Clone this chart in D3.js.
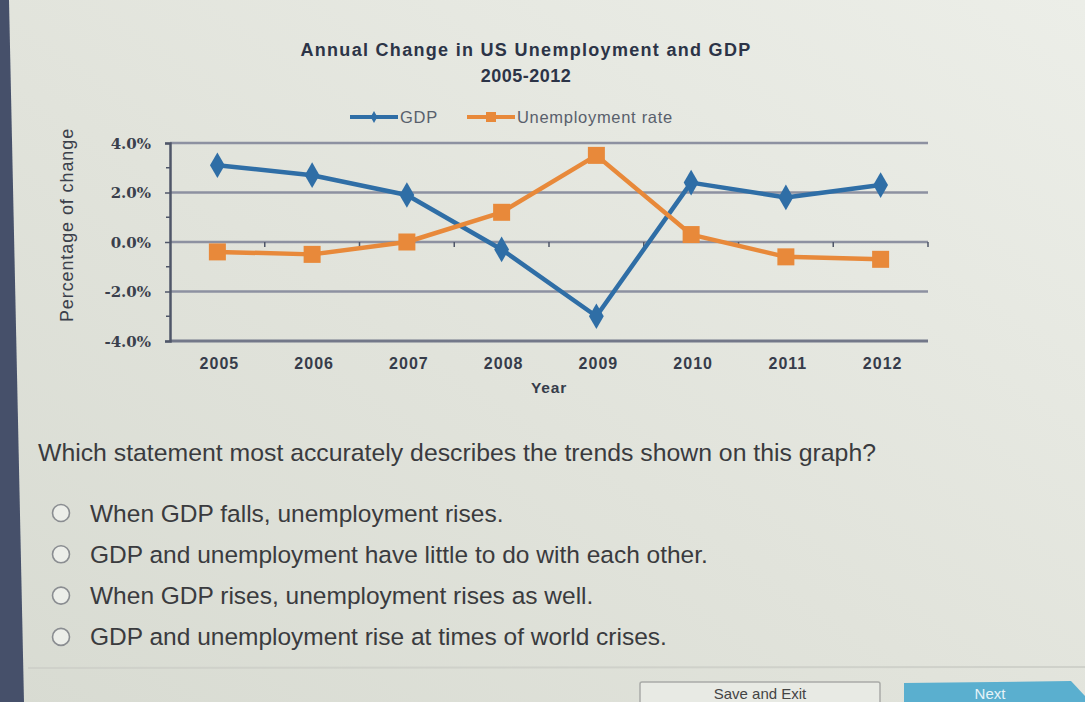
<!DOCTYPE html>
<html>
<head>
<meta charset="utf-8">
<script src="https://cdn.jsdelivr.net/npm/d3@7/dist/d3.min.js"></script>
<style>
  html, body { margin: 0; padding: 0; background: #e3e5de; }
  svg { display: block; }
</style>
</head>
<body>
<svg id="chart" width="1085" height="702"></svg>
<script>
// ---- data ----
const years = [2005, 2006, 2007, 2008, 2009, 2010, 2011, 2012];
const gdp = [3.1, 2.7, 1.9, -0.3, -3.0, 2.4, 1.8, 2.3];
const unemployment = [-0.4, -0.5, 0.0, 1.2, 3.5, 0.3, -0.6, -0.7];
const yTicks = [-4, -2, 0, 2, 4];
const minorTicks = [-3, -1, 1, 3];
const seriesNames = ["GDP", "Unemployment rate"];
const titleLines = ["Annual Change in US Unemployment and GDP", "2005-2012"];
const xTitle = "Year";
const yTitle = "Percentage of change";
const question = "Which statement most accurately describes the trends shown on this graph?";
const options = [
  "When GDP falls, unemployment rises.",
  "GDP and unemployment have little to do with each other.",
  "When GDP rises, unemployment rises as well.",
  "GDP and unemployment rise at times of world crises."
];
const buttons = ["Save and Exit", "Next"];

// ---- setup ----
const svg = d3.select("#chart");
const W = 1085, H = 702;
const defs = svg.append("defs");
const bg = defs.append("linearGradient").attr("id", "bg")
  .attr("x1", "100%").attr("y1", "0%").attr("x2", "0%").attr("y2", "100%");
bg.append("stop").attr("offset", "0%").attr("stop-color", "#eceee8");
bg.append("stop").attr("offset", "55%").attr("stop-color", "#e1e3db");
bg.append("stop").attr("offset", "100%").attr("stop-color", "#d8dbd2");
svg.append("rect").attr("width", W).attr("height", H).attr("fill", "url(#bg)");

// dark left strip (screen bezel)
svg.append("path").attr("d", "M0,0 L9,0 L24,702 L0,702 Z").attr("fill", "#46506a");

const plot = { left: 170, right: 928, top: 143, bottom: 341 };
const x = d3.scalePoint().domain(years).range([plot.left, plot.right]).padding(0.5);
const y = d3.scaleLinear().domain([-4, 4]).range([plot.bottom, plot.top]);

const blue = "#2f6ea6", orange = "#e8893a";
const axisCol = "#4f5668", gridCol = "#8d91a1";

// title
svg.append("g").selectAll("text").data(titleLines).join("text")
  .attr("x", 526).attr("y", (d, i) => 56 + i * 26)
  .attr("text-anchor", "middle")
  .attr("font-family", "Liberation Sans, Arial, sans-serif")
  .attr("font-weight", "bold").attr("font-size", 18)
  .attr("letter-spacing", (d, i) => i === 0 ? 1.3 : 0.5)
  .attr("fill", "#2c3447")
  .text(d => d);

// legend
const legend = svg.append("g").attr("class", "legend");
const legItems = [
  { name: seriesNames[0], color: blue, x0: 350, marker: "diamond" },
  { name: seriesNames[1], color: orange, x0: 467, marker: "square" }
];
legItems.forEach(it => {
  legend.append("line").attr("x1", it.x0).attr("x2", it.x0 + 48)
    .attr("y1", 117).attr("y2", 117).attr("stroke", it.color).attr("stroke-width", 4);
  if (it.marker === "diamond") {
    legend.append("path").attr("transform", `translate(${it.x0 + 24},117)`)
      .attr("d", d3.symbol(d3.symbolDiamond, 40)()).attr("fill", it.color);
  } else {
    legend.append("rect").attr("x", it.x0 + 24 - 5).attr("y", 112).attr("width", 10).attr("height", 10)
      .attr("fill", it.color);
  }
  legend.append("text").attr("x", it.x0 + 50).attr("y", 123)
    .attr("font-family", "Liberation Sans, Arial, sans-serif").attr("font-size", 16.5)
    .attr("letter-spacing", 0.7)
    .attr("fill", "#59606c").text(it.name);
});

// gridlines
const grid = svg.append("g");
grid.selectAll("line").data(yTicks).join("line")
  .attr("x1", plot.left).attr("x2", plot.right)
  .attr("y1", d => y(d)).attr("y2", d => y(d))
  .attr("stroke", d => d === -4 ? "#737889" : gridCol)
  .attr("stroke-width", d => d === -4 ? 3 : 2.5);

// vertical axis
const yAxis = d3.axisLeft(y).tickValues(yTicks).tickSize(5).tickFormat(d => d.toFixed(1) + "%");
const yg = svg.append("g").attr("transform", `translate(${plot.left},0)`).call(yAxis);
yg.select(".domain").attr("stroke", axisCol).attr("stroke-width", 2.5);
yg.selectAll(".tick line").attr("stroke", axisCol).attr("stroke-width", 1.5);
yg.selectAll(".tick text")
  .attr("x", -19).attr("dy", "0.34em")
  .attr("font-family", "DejaVu Serif, Liberation Serif, serif")
  .attr("font-weight", "bold").attr("font-size", 15)
  .attr("fill", "#3a3f4c");
svg.append("g").selectAll("line").data(minorTicks).join("line")
  .attr("x1", plot.left - 4).attr("x2", plot.left)
  .attr("y1", d => y(d)).attr("y2", d => y(d))
  .attr("stroke", axisCol).attr("stroke-width", 1.5);

// category tick marks on zero line (at category boundaries)
const step = x.step();
const bounds = years.map(yr => x(yr) + step / 2);
svg.append("g").selectAll("line").data(bounds).join("line")
  .attr("x1", d => d).attr("x2", d => d)
  .attr("y1", y(0)).attr("y2", y(0) + 5)
  .attr("stroke", axisCol).attr("stroke-width", 1.5);

// x labels
svg.append("g").selectAll("text").data(years).join("text")
  .attr("x", d => x(d) + 2).attr("y", 369)
  .attr("text-anchor", "middle")
  .attr("font-family", "Liberation Sans Narrow, Liberation Sans, Arial, sans-serif")
  .attr("font-weight", "bold").attr("font-size", 16)
  .attr("letter-spacing", 1)
  .attr("fill", "#363c4a")
  .text(d => d);

svg.append("text").attr("x", 549).attr("y", 393).attr("text-anchor", "middle")
  .attr("font-family", "Liberation Sans Narrow, Liberation Sans, Arial, sans-serif")
  .attr("font-weight", "bold").attr("font-size", 15.5).attr("letter-spacing", 0.8)
  .attr("fill", "#363c4a").text(xTitle);

svg.append("text").attr("transform", "translate(73,225) rotate(-90)")
  .attr("text-anchor", "middle")
  .attr("font-family", "Liberation Sans, Arial, sans-serif")
  .attr("font-size", 18).attr("letter-spacing", 0.9)
  .attr("fill", "#3b404b").text(yTitle);

// series
const line = d3.line().x(d => x(d.year)).y(d => y(d.v));
const gdpData = years.map((yr, i) => ({ year: yr, v: gdp[i] }));
const unData = years.map((yr, i) => ({ year: yr, v: unemployment[i] }));

svg.append("path").datum(gdpData).attr("d", line)
  .attr("fill", "none").attr("stroke", blue).attr("stroke-width", 4.5).attr("stroke-linejoin", "round");
svg.append("path").datum(unData).attr("d", line)
  .attr("fill", "none").attr("stroke", orange).attr("stroke-width", 4.5).attr("stroke-linejoin", "round");

svg.append("g").selectAll("path").data(gdpData).join("path")
  .attr("transform", d => `translate(${x(d.year)},${y(d.v)})`)
  .attr("d", d3.symbol(d3.symbolDiamond, 190)())
  .attr("fill", blue);
svg.append("g").selectAll("rect").data(unData).join("rect")
  .attr("x", d => x(d.year) - 8.5).attr("y", d => y(d.v) - 8.5)
  .attr("width", 17).attr("height", 17)
  .attr("fill", orange);

// question
svg.append("text").attr("x", 38).attr("y", 461)
  .attr("font-family", "Liberation Sans, Arial, sans-serif")
  .attr("font-size", 24.8).attr("fill", "#3a3b3e").text(question);

const og = svg.append("g").selectAll("g").data(options).join("g")
  .attr("transform", (d, i) => `translate(0,${513 + i * 41.3})`);
og.append("circle").attr("cx", 61).attr("cy", 0).attr("r", 8.5)
  .attr("fill", "#eceee9").attr("stroke", "#8a8d91").attr("stroke-width", 1.6);
og.append("text").attr("x", 90).attr("y", 8.5)
  .attr("font-family", "Liberation Sans, Arial, sans-serif")
  .attr("font-size", 24.5).attr("fill", "#3a3b3e").text(d => d);

// separator
svg.append("line").attr("x1", 28).attr("x2", W).attr("y1", 668).attr("y2", 667)
  .attr("stroke", "#cfd1ca").attr("stroke-width", 2);

// buttons
svg.append("rect").attr("x", 640).attr("y", 682).attr("width", 240).attr("height", 30)
  .attr("rx", 2).attr("fill", "#e8eae4").attr("stroke", "#a9aba8").attr("stroke-width", 1.5);
svg.append("text").attr("x", 760).attr("y", 699).attr("text-anchor", "middle")
  .attr("font-family", "Liberation Sans, Arial, sans-serif").attr("font-size", 15)
  .attr("fill", "#444").text(buttons[0]);
svg.append("path").attr("d", "M904,683 L1071,681 L1085,696 L1085,702 L904,702 Z")
  .attr("fill", "#5aafcf");
svg.append("text").attr("x", 990).attr("y", 699).attr("text-anchor", "middle")
  .attr("font-family", "Liberation Sans, Arial, sans-serif").attr("font-size", 15)
  .attr("fill", "#e6f3f8").text(buttons[1]);
</script>
</body>
</html>
